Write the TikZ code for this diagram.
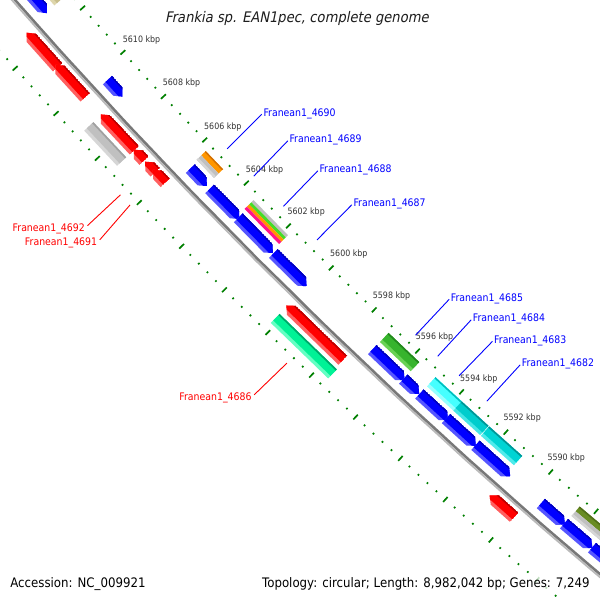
\documentclass[tikz,border=0pt]{standalone}
\usepackage{fontspec}
\newfontfamily\cgf[FakeStretch=0.9]{DejaVu Sans}
\newfontfamily\cgti[FakeStretch=0.9,FakeSlant=0.2]{DejaVu Sans}
\definecolor{tickc}{RGB}{0,128,0}
\definecolor{bbdark}{RGB}{120,120,120}
\definecolor{bblight}{RGB}{185,185,185}
\definecolor{bluM}{RGB}{0,0,255}\definecolor{bluL}{RGB}{85,85,255}\definecolor{bluD}{RGB}{0,0,190}
\definecolor{redM}{RGB}{255,0,0}\definecolor{redL}{RGB}{255,95,95}\definecolor{redD}{RGB}{190,0,0}
\definecolor{gryM}{RGB}{192,192,192}\definecolor{gryL}{RGB}{214,214,214}\definecolor{gryD}{RGB}{160,160,160}
\definecolor{grnM}{RGB}{0,242,150}\definecolor{grnL}{RGB}{100,255,195}\definecolor{grnD}{RGB}{0,165,105}
\definecolor{gonM}{RGB}{55,180,45}\definecolor{gonL}{RGB}{105,210,85}\definecolor{gonD}{RGB}{35,135,30}
\definecolor{cyaM}{RGB}{70,255,255}\definecolor{cyaL}{RGB}{150,255,255}\definecolor{cyaD}{RGB}{0,190,190}
\definecolor{cybM}{RGB}{0,205,205}\definecolor{cybL}{RGB}{70,230,230}\definecolor{cybD}{RGB}{0,150,150}
\definecolor{cycM}{RGB}{0,212,212}\definecolor{cycL}{RGB}{80,235,235}\definecolor{cycD}{RGB}{0,150,150}
\definecolor{khaM}{RGB}{200,190,140}\definecolor{khaL}{RGB}{222,214,172}\definecolor{khaD}{RGB}{160,150,100}
\definecolor{oraM}{RGB}{255,150,0}\definecolor{oraD}{RGB}{210,110,0}
\definecolor{oliM}{RGB}{105,140,35}\definecolor{oliD}{RGB}{80,110,25}
\definecolor{mgrn}{RGB}{70,220,40}\definecolor{mmag}{RGB}{255,20,140}
\definecolor{labblue}{RGB}{0,0,255}\definecolor{labred}{RGB}{255,0,0}
\definecolor{tickt}{RGB}{50,50,50}\definecolor{titc}{RGB}{30,30,30}
% band between two angles (cgview angle, negated) and two radii
\newcommand\gband[5]{\fill[#5] (-#1:#3) -- (-#2:#3) -- (-#2:#4) -- (-#1:#4) -- cycle;}
\newcommand\gshade[6]{%
  \pgfmathsetmacro\cgRo{#3+12.5}\pgfmathsetmacro\cgRs{#3+9}\pgfmathsetmacro\cgRd{#3+1.6}%
  \gband{#1}{#2}{#3}{\cgRo}{#5}%
  \gband{#1}{#2}{#3}{\cgRs}{#4}%
  \gband{#1}{#2}{#3}{\cgRd}{#6}}
\newcommand\gfwd[6]{%
  \begin{scope}
  \pgfmathsetmacro\cgRo{#3+12.5}\pgfmathsetmacro\cgRm{#3+6.25}\pgfmathsetmacro\cgAh{#2-0.072}%
  \clip (-#1:#3) -- (-\cgAh:#3) -- (-#2:\cgRm) -- (-\cgAh:\cgRo) -- (-#1:\cgRo) -- cycle;
  \gshade{#1}{#2}{#3}{#4}{#5}{#6}
  \end{scope}}
\newcommand\grev[6]{%
  \begin{scope}
  \pgfmathsetmacro\cgRo{#3+12.5}\pgfmathsetmacro\cgRm{#3+6.25}\pgfmathsetmacro\cgAh{#1+0.072}%
  \clip (-#1:\cgRm) -- (-\cgAh:#3) -- (-#2:#3) -- (-#2:\cgRo) -- (-\cgAh:\cgRo) -- cycle;
  \gshade{#1}{#2}{#3}{#4}{#5}{#6}
  \end{scope}}
\tikzset{
  ticklab/.style={font={\cgf\fontsize{8.8}{10}\selectfont}, text=tickt, inner sep=0pt, anchor=base west},
  bluelab/.style={font={\cgf\fontsize{10.4}{12}\selectfont}, text=labblue, inner sep=0pt, anchor=base west},
  redlab/.style={font={\cgf\fontsize{10.4}{12}\selectfont}, text=labred, inner sep=0pt, anchor=base east},
  infotext/.style={font={\cgf\fontsize{13.1}{15}\selectfont}, text=black, inner sep=0.5pt, anchor=base west,
    fill=white, fill opacity=0.75, text opacity=1},
  bline/.style={draw=labblue, line width=0.9pt},
  rline/.style={draw=labred, line width=0.9pt}
}
\begin{document}
\begin{tikzpicture}[x=1pt,y=-1pt]
\useasboundingbox (0,0) rectangle (600,600);
\fill[white] (0,0) rectangle (600,600);
\begin{scope}
\clip (0,0) rectangle (600,600);
\begin{scope}[shift={(4199,-3677)}]
  % tick marks (outer at 5525, inner at 5615.5)
  \foreach \k in {-23,...,54}{
    \pgfmathsetmacro\cga{-(223.70+\k*0.12438)}
    \pgfmathtruncatemacro\cgm{mod(\k+100,5)}
    \ifnum\cgm=0
      \draw[tickc,line width=1.7pt] (\cga:5521.8) -- (\cga:5528.4);
      \draw[tickc,line width=1.7pt] (\cga:5612.3) -- (\cga:5618.9);
    \else
      \draw[tickc,line width=1.7pt] (\cga:5524.1) -- (\cga:5525.9);
      \draw[tickc,line width=1.7pt] (\cga:5614.6) -- (\cga:5616.4);
    \fi
  }
  % inner slot 1: blue forward genes
  \gfwd{220.8}{221.629}{5549}{bluM}{bluL}{bluD}
  \gfwd{222.56}{222.790}{5549}{bluM}{bluL}{bluD}
  \gfwd{223.81}{224.059}{5549}{bluM}{bluL}{bluD}
  \gfwd{224.10}{224.536}{5549}{bluM}{bluL}{bluD}
  \gfwd{224.52}{225.029}{5549}{bluM}{bluL}{bluD}
  \gfwd{225.035}{225.516}{5549}{bluM}{bluL}{bluD}
  \gfwd{226.458}{226.918}{5549}{bluM}{bluL}{bluD}
  \gfwd{226.90}{227.124}{5549}{bluM}{bluL}{bluD}
  \gfwd{227.126}{227.527}{5549}{bluM}{bluL}{bluD}
  \gfwd{227.50}{227.916}{5549}{bluM}{bluL}{bluD}
  \gfwd{227.91}{228.390}{5549}{bluM}{bluL}{bluD}
  \gfwd{228.813}{229.144}{5549}{bluM}{bluL}{bluD}
  \gfwd{229.13}{229.515}{5549}{bluM}{bluL}{bluD}
  \gfwd{229.51}{230.6}{5549}{bluM}{bluL}{bluD}
  % inner slot 2
  \gshade{220.8}{221.62}{5532}{khaM}{khaL}{khaD}
  \gband{223.79}{224.05}{5532}{5538.25}{oraM}
  \gband{223.79}{224.05}{5532}{5533.4}{oraD}
  \gband{223.79}{224.05}{5538.25}{5544.5}{gryM}
  \gband{223.79}{224.05}{5542}{5544.5}{gryL}
  \gband{224.499}{225.008}{5532}{5535.1}{gryM}
  \gband{224.499}{225.008}{5535.1}{5538.2}{mgrn}
  \gband{224.499}{225.008}{5538.2}{5541.4}{oraM}
  \gband{224.499}{225.008}{5541.4}{5544.5}{mmag}
  \gshade{226.462}{226.899}{5532}{gonM}{gonL}{gonD}
  \gshade{227.13}{227.50}{5532}{cyaM}{cyaL}{cyaD}
  \gshade{227.50}{227.875}{5532}{cybM}{cybL}{cybD}
  \gshade{227.885}{228.342}{5532}{cycM}{cycL}{cycD}
  \gband{229.136}{230.6}{5532}{5538.25}{oliM}
  \gband{229.136}{230.6}{5532}{5533.5}{oliD}
  \gband{229.136}{230.6}{5538.25}{5544.5}{gryM}
  \gband{229.136}{230.6}{5542}{5544.5}{gryL}
  % outer slot 1: red reverse genes
  \grev{221.641}{222.117}{5577}{redM}{redL}{redD}
  \grev{222.082}{222.535}{5577}{redM}{redL}{redD}
  \grev{222.772}{223.278}{5577}{redM}{redL}{redD}
  \grev{223.268}{223.423}{5577}{redM}{redL}{redD}
  \grev{223.4375}{223.588}{5577}{redM}{redL}{redD}
  \grev{223.554}{223.737}{5577}{redM}{redL}{redD}
  \grev{225.506}{226.314}{5577}{redM}{redL}{redD}
  \grev{228.362}{228.70}{5577}{redM}{redL}{redD}
  % outer slot 2
  \gshade{222.78}{223.272}{5594}{gryM}{gryL}{gryD}
  \gshade{225.518}{226.334}{5594}{grnM}{grnL}{grnD}
  % backbone
  \draw[bbdark, line width=2.6pt] plot[domain=-230.6:-220.8, samples=60] (\x:5570.3);
  \draw[bblight, line width=1.9pt] plot[domain=-230.6:-220.8, samples=60] (\x:5572.6);
  % label targets
  \coordinate (e4690) at (-223.927:5515);
  \coordinate (e4689) at (-224.324:5515);
  \coordinate (e4688) at (-224.763:5515);
  \coordinate (e4687) at (-225.257:5515);
  \coordinate (e4685) at (-226.68:5515);
  \coordinate (e4684) at (-226.998:5515);
  \coordinate (e4683) at (-227.30:5515);
  \coordinate (e4682) at (-227.69:5515);
  \coordinate (e4692) at (-223.51:5624);
  \coordinate (e4691) at (-223.653:5624);
  \coordinate (e4686) at (-225.922:5624);
\end{scope}
\end{scope}
% tick labels
\node[ticklab] (t5610) at (122.7,42.6) {5610 kbp};
\node[ticklab] (t5608) at (162.7,85.2) {5608 kbp};
\node[ticklab] (t5606) at (204,129.2) {5606 kbp};
\node[ticklab] (t5604) at (245.7,172.5) {5604 kbp};
\node[ticklab] (t5602) at (287.3,214.2) {5602 kbp};
\node[ticklab] (t5600) at (330,256.5) {5600 kbp};
\node[ticklab] (t5598) at (372.7,298.7) {5598 kbp};
\node[ticklab] (t5596) at (415.7,339.5) {5596 kbp};
\node[ticklab] (t5594) at (460,381) {5594 kbp};
\node[ticklab] (t5592) at (503.3,420.2) {5592 kbp};
\node[ticklab] (t5590) at (547.3,460.2) {5590 kbp};
% gene labels
\node[bluelab] (l4690) at (263.3,116.3) {Franean1\_4690};
\node[bluelab] (l4689) at (289.3,142.8) {Franean1\_4689};
\node[bluelab] (l4688) at (319.3,172.8) {Franean1\_4688};
\node[bluelab] (l4687) at (353.3,206.8) {Franean1\_4687};
\node[bluelab] (l4685) at (450.7,301.3) {Franean1\_4685};
\node[bluelab] (l4684) at (472.7,321.8) {Franean1\_4684};
\node[bluelab] (l4683) at (494,343.3) {Franean1\_4683};
\node[bluelab] (l4682) at (521.7,366.8) {Franean1\_4682};
\node[redlab] (l4692) at (85,231.6) {Franean1\_4692};
\node[redlab] (l4691) at (97.3,245.8) {Franean1\_4691};
\node[redlab] (l4686) at (251.7,400.8) {Franean1\_4686};
% connectors
\foreach \g in {4690,4689,4688,4687,4685,4684,4683,4682}
  \draw[bline] ([xshift=-1.5pt,yshift=2pt]l\g.base west) -- (e\g);
\foreach \g in {4692,4691,4686}
  \draw[rline] ([xshift=2.5pt,yshift=6pt]l\g.base east) -- (e\g);
% title and info
\node[font={\cgti\fontsize{14.6}{17}\selectfont}, text=titc, inner sep=0pt, anchor=base west] (title) at (165,22.7) {Frankia sp. EAN1pec, complete genome};
\node[infotext] (acc) at (9.6,587.3) {Accession: NC\_009921};
\node[infotext] (topo) at (261.4,587.3) {Topology: circular; Length: 8,982,042 bp; Genes: 7,249};
\end{tikzpicture}
\end{document}
